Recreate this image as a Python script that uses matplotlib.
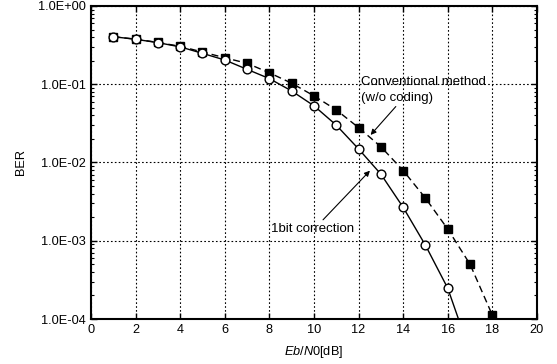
import matplotlib
matplotlib.use("Agg")
import matplotlib.pyplot as plt
from matplotlib.ticker import FuncFormatter, LogLocator, NullFormatter, MultipleLocator
import math

plt.rcParams['font.family'] = ['Liberation Sans', 'DejaVu Sans']
plt.rcParams['mathtext.fontset'] = 'custom'
plt.rcParams['mathtext.rm'] = 'Liberation Sans'
plt.rcParams['mathtext.it'] = 'Liberation Sans:italic'

ebno = [1, 2, 3, 4, 5, 6, 7, 8, 9, 10, 11, 12, 13, 14, 15, 16, 17, 18]
ber_conv = [0.405, 0.377, 0.342, 0.305, 0.258, 0.218, 0.185, 0.140, 0.103, 0.071,
            0.047, 0.0279, 0.0159, 0.0079, 0.0035, 0.00141, 0.0005, 0.000112]
ebno_1bit = [1, 2, 3, 4, 5, 6, 7, 8, 9, 10, 11, 12, 13, 14, 15, 16, 16.48]
ber_1bit = [0.405, 0.375, 0.340, 0.300, 0.248, 0.204, 0.155, 0.118, 0.082, 0.053,
            0.030, 0.0149, 0.0071, 0.00267, 0.000875, 0.000247, 0.0001]
marker_n_1bit = 16

fig = plt.figure(figsize=(5.57, 3.64), dpi=100)
ax = fig.add_axes([0.1634, 0.1236, 0.8006, 0.86])

ax.plot(ebno, ber_conv, color='black', lw=1.0, ls=(0, (5, 3)), marker='s',
        ms=6.3, mfc='black', mec='black', zorder=3, clip_on=True)
ax.plot(ebno_1bit, ber_1bit, color='black', lw=1.0, ls='-', marker='o',
        ms=6.3, mfc='white', mec='black', mew=1.0, zorder=4,
        markevery=list(range(marker_n_1bit)), clip_on=True)

ax.set_yscale('log')
ax.set_xlim(0, 20)
ax.set_ylim(1e-4, 1)
ax.xaxis.set_major_locator(MultipleLocator(2))
ax.yaxis.set_major_locator(LogLocator(base=10, numticks=10))
ax.yaxis.set_minor_locator(LogLocator(base=10, subs=range(2, 10), numticks=10))
ax.yaxis.set_minor_formatter(NullFormatter())

def fmt(v, pos):
    e = int(round(math.log10(v)))
    sign = '+' if e >= 0 else '-'
    return f'1.0E{sign}{abs(e):02d}'
ax.yaxis.set_major_formatter(FuncFormatter(fmt))

ax.grid(True, which='major', color='black', ls=(0, (1.5, 2)), lw=0.8)
ax.tick_params(which='both', direction='in', top=True, right=True, labelsize=9.2)
ax.tick_params(which='major', length=4, width=1)
ax.tick_params(which='minor', length=2, width=0.8)
for s in ax.spines.values():
    s.set_linewidth(1.5)

ax.set_xlabel(r'$\mathit{Eb/N0}$[dB]', fontsize=9.2, labelpad=6)
ax.set_ylabel('BER', fontsize=9.2, labelpad=8)

ax.annotate('Conventional method\n(w/o coding)', xy=(12.54, 0.0225), xytext=(12.1, 0.085),
            fontsize=9.5, ha='left', va='center', linespacing=1.45,
            arrowprops=dict(arrowstyle='-|>', color='black', lw=0.8,
                            shrinkA=0, shrinkB=0, mutation_scale=8,
                            relpos=(0.3, 0.0)),
            zorder=5)
ax.annotate('1bit correction', xy=(12.51, 0.00786), xytext=(8.05, 0.00143),
            fontsize=9.5, ha='left', va='center',
            arrowprops=dict(arrowstyle='-|>', color='black', lw=0.8,
                            shrinkA=0, shrinkB=0, mutation_scale=8,
                            relpos=(0.6, 1.0)),
            zorder=5)

fig.savefig('out.png', dpi=100)
